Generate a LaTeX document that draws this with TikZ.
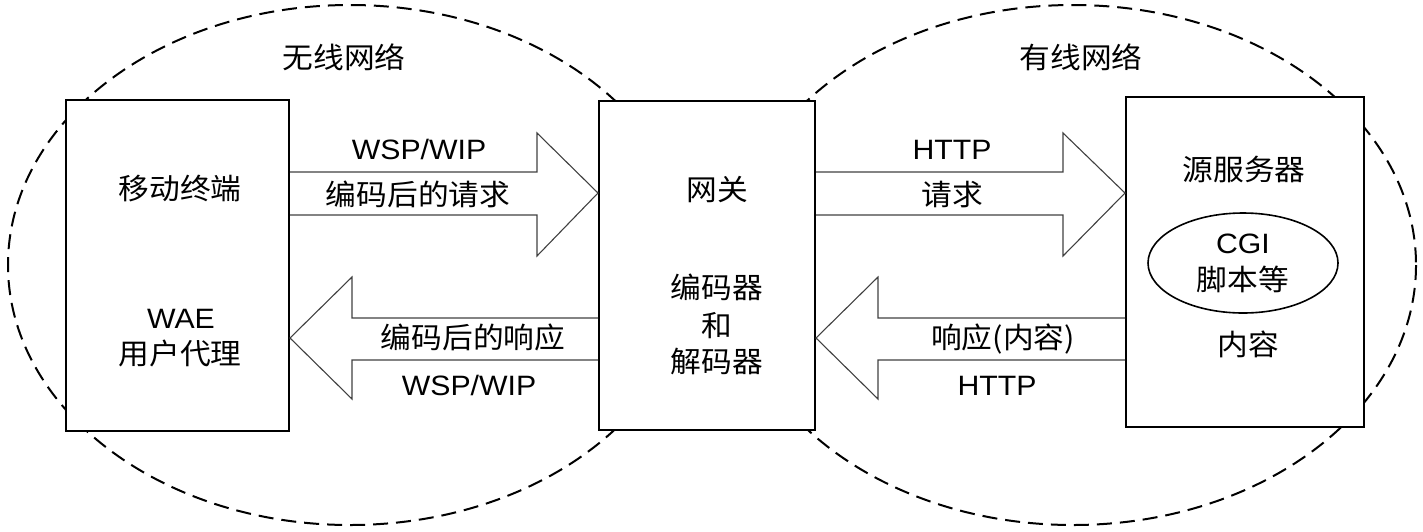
\documentclass[tikz,border=0pt]{standalone}
\usepackage{fontspec}
\setmainfont{Liberation Sans}[FakeStretch=1.08]
\newfontfamily\cjk{Noto Sans CJK SC}[FakeStretch=1.06]
\usetikzlibrary{shapes.geometric}
\tikzset{
  net/.style={draw=black, line width=2pt, dash pattern=on 15pt off 8pt},
  blk/.style={draw=black, fill=white, line width=2pt, anchor=north west, inner sep=0pt},
  fat/.style={draw=black!75, line width=1.1pt, line join=miter},
  lbl/.style={inner sep=0pt, text height=22.4pt, text depth=0.6pt, font=\fontsize{29}{35}\selectfont\cjk},
  lat/.style={inner sep=0pt, text height=20.8pt, text depth=0.6pt, font=\fontsize{28}{34}\selectfont},
}
\begin{document}
\begin{tikzpicture}[x={(1pt,0)}, y={(0,-1pt)}]
\useasboundingbox (0,0) rectangle (1423,531);
% network regions
\draw[net] (350,265) ellipse [x radius=342, y radius=260];
\draw[net] (1073,265) ellipse [x radius=343, y radius=260];
\node[lbl] (wl) at (344,58) {无线网络};
\node[lbl] (wd) at (1081,58) {有线网络};
% boxes
\node[blk, minimum width=223pt, minimum height=331pt] (mt) at (65,99) {};
\node[blk, minimum width=216pt, minimum height=329pt] (gw) at (598,100) {};
\node[blk, minimum width=238pt, minimum height=330pt] (src) at (1125,96) {};
% box texts
\node[lbl] (t1) at (180,189) {移动终端};
\node[lat] (t2) at (181,318) {WAE};
\node[lbl] (t3) at (180,354) {用户代理};
\node[lbl] (g1) at (717,190) {网关};
\node[lbl] (g2) at (717,288) {编码器};
\node[lbl] (g3) at (717,326) {和};
\node[lbl] (g4) at (717,362) {解码器};
\node[lbl] (s1) at (1244,170) {源服务器};
\node[draw=black, line width=1.6pt, ellipse, minimum width=190pt, minimum height=100pt, inner sep=0pt] (cgi) at (1243,263) {};
\node[lat] (s2) at (1243,243) {CGI};
\node[lbl] (s3) at (1243,280) {脚本等};
\node[lbl] (s4) at (1248,345) {内容};
% arrows: mobile -> gateway
\coordinate (a1) at (537,0);
\draw[fat] (mt.east |- 0,172) -- (a1 |- 0,172) -- (a1 |- 0,133) -- (gw.west |- 0,193)
  -- (a1 |- 0,256) -- (a1 |- 0,215) -- (mt.east |- 0,215);
% gateway -> mobile
\coordinate (a2) at (352,0);
\draw[fat] (gw.west |- 0,318) -- (a2 |- 0,318) -- (a2 |- 0,277) -- (mt.east |- 0,338)
  -- (a2 |- 0,399) -- (a2 |- 0,360) -- (gw.west |- 0,360);
% gateway -> server
\coordinate (a3) at (1063,0);
\draw[fat] (gw.east |- 0,172) -- (a3 |- 0,172) -- (a3 |- 0,133) -- (src.west |- 0,193)
  -- (a3 |- 0,256) -- (a3 |- 0,215) -- (gw.east |- 0,215);
% server -> gateway
\coordinate (a4) at (878,0);
\draw[fat] (src.west |- 0,318) -- (a4 |- 0,318) -- (a4 |- 0,277) -- (gw.east |- 0,338)
  -- (a4 |- 0,399) -- (a4 |- 0,360) -- (src.west |- 0,360);
% arrow labels
\node[lat] (l1) at (419,149) {WSP/WIP};
\node[lbl] (l2) at (418,195) {编码后的请求};
\node[lbl] (l3) at (473,338) {编码后的响应};
\node[lat] (l4) at (469,385) {WSP/WIP};
\node[lat] (r1) at (952,149) {HTTP};
\node[lbl] (r2) at (952,195) {请求};
\node[lbl] (r3) at (1003,338) {响应(内容)};
\node[lat] (r4) at (997,385) {HTTP};
\end{tikzpicture}
\end{document}
